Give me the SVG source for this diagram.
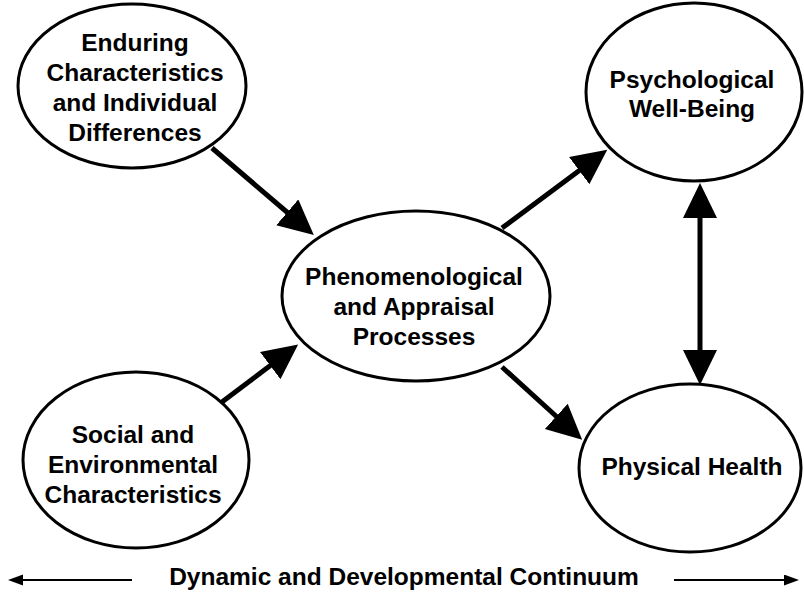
<svg xmlns="http://www.w3.org/2000/svg" width="804" height="594" viewBox="0 0 804 594">
<style>
.node ellipse{fill:#fff;stroke:#000;stroke-width:3}
text{font-family:"Liberation Sans",Arial,Helvetica,sans-serif;font-weight:bold;font-size:24.5px;fill:#000;text-anchor:middle}
.conn path{fill:none;stroke:#000}
.big{stroke-width:5;marker-end:url(#head)}
.dbl{stroke-width:5;marker-start:url(#head);marker-end:url(#head)}
.thin{stroke-width:2;marker-end:url(#small)}
</style>
<defs>
<marker id="head" markerUnits="userSpaceOnUse" markerWidth="36" markerHeight="36" viewBox="0 0 36 36" refX="1" refY="17" orient="auto-start-reverse">
<path d="M0,0 L35,17 L0,34 z" fill="#000"/>
</marker>
<marker id="small" markerUnits="userSpaceOnUse" markerWidth="16" markerHeight="12" viewBox="0 0 16 12" refX="1" refY="5.5" orient="auto">
<path d="M0,0 L15,5.5 L0,11 z" fill="#000"/>
</marker>
</defs>
<rect width="804" height="594" fill="#fff"/>
<g class="conn" id="connectors">
<path class="big" d="M212,148 L288,213"/>
<path class="big" d="M218,405 L271,365"/>
<path class="big" d="M502,228 L580,170"/>
<path class="big" d="M502,367 L557,417"/>
<path class="dbl" d="M700,217 L700,351"/>
<path class="thin" d="M132,580 L22,580"/>
<path class="thin" d="M674,580 L785,580"/>
</g>
<g class="node" id="enduring">
<ellipse cx="132" cy="86" rx="114" ry="82"/>
<text x="135" y="51">Enduring</text>
<text x="135" y="81">Characteristics</text>
<text x="135" y="111">and Individual</text>
<text x="135" y="141">Differences</text>
</g>
<g class="node" id="psych">
<ellipse cx="694" cy="92" rx="108" ry="89"/>
<text x="692" y="88">Psychological</text>
<text x="692" y="117">Well-Being</text>
</g>
<g class="node" id="phenom">
<ellipse cx="416" cy="296" rx="134" ry="85"/>
<text x="414" y="285">Phenomenological</text>
<text x="414" y="315">and Appraisal</text>
<text x="414" y="345">Processes</text>
</g>
<g class="node" id="social">
<ellipse cx="136" cy="460" rx="113" ry="88"/>
<text x="133" y="443">Social and</text>
<text x="133" y="473">Environmental</text>
<text x="133" y="503">Characteristics</text>
</g>
<g class="node" id="physical">
<ellipse cx="690" cy="468" rx="111" ry="84"/>
<text x="692" y="475">Physical Health</text>
</g>
<g id="continuum">
<text x="404" y="585">Dynamic and Developmental Continuum</text>
</g>
</svg>
